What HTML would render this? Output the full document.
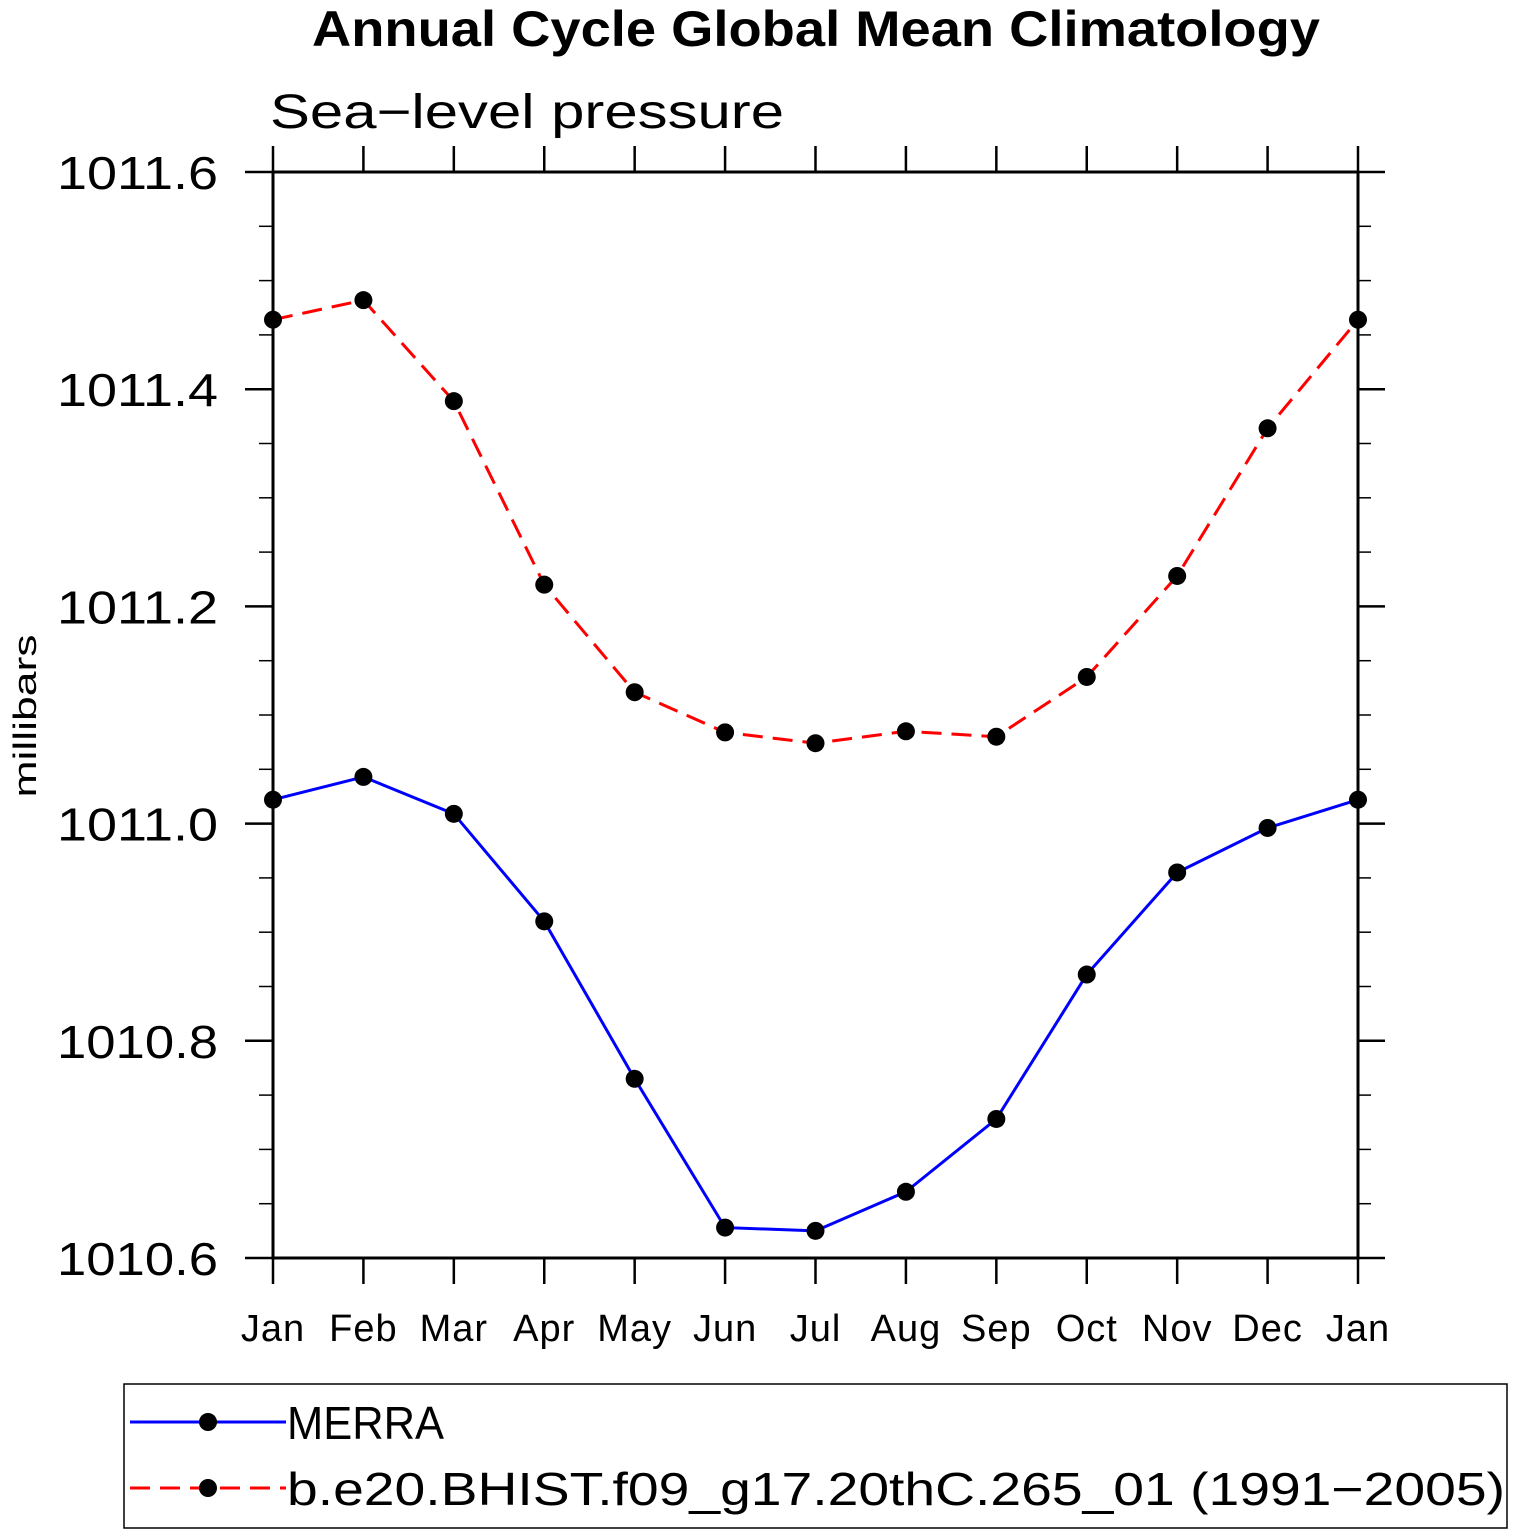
<!DOCTYPE html>
<html><head><meta charset="utf-8"><style>
html,body{margin:0;padding:0;background:#fff;}
svg{display:block;}
text{font-family:"Liberation Sans",sans-serif;}
</style></head><body>
<svg id="chart" width="1514" height="1534" viewBox="0 0 1514 1534">
<text x="312" y="46" font-size="50" font-weight="bold" textLength="1008" lengthAdjust="spacingAndGlyphs">Annual Cycle Global Mean Climatology</text>
<text x="270" y="128" font-size="48" textLength="514" lengthAdjust="spacingAndGlyphs">Sea−level pressure</text>
<text transform="translate(36,716) rotate(-90)" text-anchor="middle" font-size="32" textLength="163" lengthAdjust="spacingAndGlyphs">millibars</text>
<g id="axes"></g>
<g id="series"></g>
<rect x="124" y="1384" width="1383" height="144" fill="none" stroke="#000" stroke-width="1.5"/>
<line x1="130" y1="1422" x2="286" y2="1422" stroke="#0000ff" stroke-width="3"/>
<circle cx="208" cy="1422" r="9" fill="#000"/>
<text x="287" y="1439" font-size="46" textLength="157" lengthAdjust="spacingAndGlyphs">MERRA</text>
<line x1="130" y1="1488" x2="286" y2="1488" stroke="#ff0000" stroke-width="3" stroke-dasharray="20,10"/>
<circle cx="208" cy="1488" r="9" fill="#000"/>
<text x="287" y="1505" font-size="46" textLength="1218" lengthAdjust="spacingAndGlyphs">b.e20.BHIST.f09_g17.20thC.265_01 (1991−2005)</text>
</svg>
<script>
const months = ["Jan","Feb","Mar","Apr","May","Jun","Jul","Aug","Sep","Oct","Nov","Dec","Jan"];
const merra = [1011.022,1011.043,1011.009,1010.910,1010.765,1010.628,1010.625,1010.661,1010.728,1010.861,1010.955,1010.996,1011.022];
const model = [1011.464,1011.482,1011.389,1011.220,1011.121,1011.084,1011.074,1011.085,1011.080,1011.135,1011.228,1011.364,1011.464];
const yTicks = [1010.6,1010.8,1011.0,1011.2,1011.4,1011.6];
const yTickLabels = ["1010.6","1010.8","1011.0","1011.2","1011.4","1011.6"];
const NS="http://www.w3.org/2000/svg";
const X0=273,X1=1358,Y0=172,Y1=1258,ymin=1010.6,ymax=1011.6;
const xs=i=>X0+(X1-X0)*i/(months.length-1);
const ys=v=>Y1-(v-ymin)/(ymax-ymin)*(Y1-Y0);
function mk(tag,attrs,parent){const e=document.createElementNS(NS,tag);for(const k in attrs)e.setAttribute(k,attrs[k]);parent.appendChild(e);return e;}
const ax=document.getElementById('axes');
const fr=mk('rect',{x:X0,y:Y0,width:X1-X0,height:Y1-Y0,fill:'none',stroke:'#000','stroke-width':3},ax);


months.forEach((m,i)=>{
  const x=xs(i);
  const t1=mk('line',{x1:x,y1:Y1,x2:x,y2:Y1+26,stroke:'#000','stroke-width':2.5},ax);
  
  
  const t2=mk('line',{x1:x,y1:Y0,x2:x,y2:Y0-26,stroke:'#000','stroke-width':2.5},ax);
  
  
  const tl=mk('text',{x:x,y:1341,'text-anchor':'middle','font-size':38,style:'letter-spacing:1px'},ax);
  tl.textContent=m;
  
  
});
for(let k=0;k<=20;k++){
  const v=ymin+k*0.05, y=ys(v), major=k%4===0;
  const len=major?28:14;
  const a=mk('line',{x1:X0-len,y1:y,x2:X0,y2:y,stroke:'#000','stroke-width':major?2.5:1.5},ax);
  
  
  const b=mk('line',{x1:X1,y1:y,x2:X1+len-1,y2:y,stroke:'#000','stroke-width':major?2.5:1.5},ax);
  
  
}
yTicks.forEach((v,i)=>{
  const t=mk('text',{x:57,y:ys(v)+17,'font-size':46,textLength:161,lengthAdjust:'spacingAndGlyphs'},ax);
  t.textContent=yTickLabels[i];
  
  
});
const sg=document.getElementById('series');
function draw(vals,color,dash,name){
  const p=mk('polyline',{points:vals.map((v,i)=>xs(i)+','+ys(v)).join(' '),fill:'none',stroke:color,'stroke-width':3},sg);
  if(dash)p.setAttribute('stroke-dasharray',dash);
  
  
  vals.forEach((v,i)=>{
    const c=mk('circle',{cx:xs(i),cy:ys(v),r:9,fill:'#000'},sg);
    
    
  });
}
draw(model,'#ff0000','20,10','model');
draw(merra,'#0000ff',null,'merra');
</script>
</body></html>
